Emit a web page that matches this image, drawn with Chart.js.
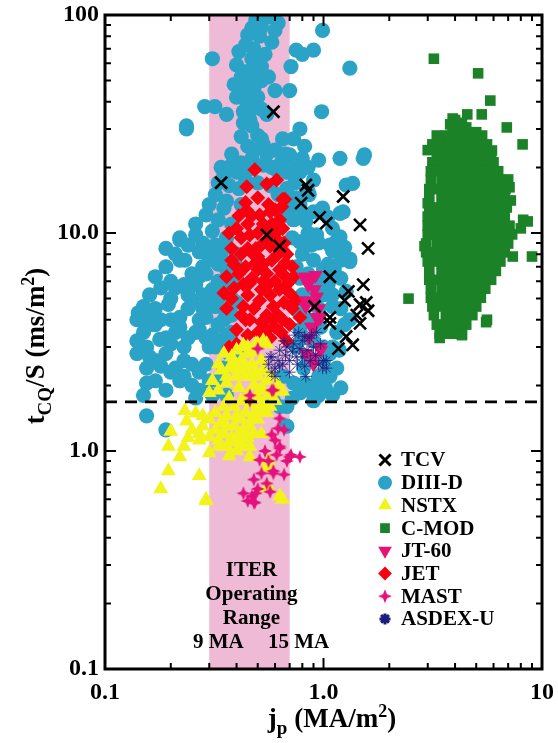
<!DOCTYPE html>
<html><head><meta charset="utf-8">
<script src="https://cdn.jsdelivr.net/npm/chart.js@4.4.0/dist/chart.umd.min.js"></script>
<style>html,body{margin:0;padding:0;background:#fff;}#wrap{width:558px;height:743px;}</style>
</head><body><div id="wrap"><canvas id="c" width="558" height="743"></canvas></div>
<script>
// ---------------- data ----------------
const xTickVals = [0.1, 1, 10];
const xTickLabels = ['0.1', '1.0', '10'];
const yTickVals = [0.1, 1, 10, 100];
const yTickLabels = ['0.1', '1.0', '10.0', '100'];
const seriesNames = ['TCV', 'DIII-D', 'NSTX', 'C-MOD', 'JT-60', 'JET', 'MAST', 'ASDEX-U'];
const iterBand = [0.3, 0.7];
const iterBandLabels = ['9 MA', '15 MA'];
const iterText = ['ITER', 'Operating', 'Range'];
const limitLine = 1.68;

const tcvPts = [[0.59,36],[0.34,17],[0.83,16.6],[0.85,15.7],[0.79,13.7],[1.23,14.7],[0.96,11.8],[1.03,11.1],[1.47,10.9],
[0.55,9.8],[0.63,8.7],[1.6,8.5],[1.07,6.3],[1.52,5.8],[1.3,5.4],[1.25,4.9],[1.47,4.7],[1.57,4.8],[1.6,4.4],[0.91,4.6],
[1.07,4.1],[1.07,3.85],[1.47,3.85],[1.42,4.2],[1.27,3.35],[1.36,3.07],[1.17,2.95]];

const diiidPts = [[0.56,98],[0.62,92],[0.47,87],[0.45,81],[0.99,85],[0.41,68],[0.48,70],[0.54,66],[0.75,69],[0.9,69],[0.8,66],
[0.31,63],[0.4,59],[0.445,55],[0.52,50],[0.71,58],[1.32,57],[0.39,48],[0.46,49.5],[0.7,45],[0.445,40],[0.47,37],[0.286,38],
[0.318,38],[0.36,35],[0.236,31],[0.236,30],[0.98,36],[0.43,32],[0.47,31],[0.42,27.7],[0.53,25.4],[0.65,27],[0.78,30],[0.73,27],
[0.38,23],[0.47,22],[0.7,22.8],[0.95,21.6],[1.19,22],[1.54,22.8],[0.34,20],[0.53,20.5],[0.61,19.5],[0.78,19],[1.27,16.6],
[1.36,16.9],[1.23,12.5],[0.99,13],[0.32,15],[0.41,16],[0.68,16],[0.29,12.1],[0.35,13],[0.78,13.5],[0.83,11.3],[0.22,9.5],
[0.26,9.8],[0.31,10.2],[0.35,8.5],[0.78,9.1],[0.93,9.8],[1.19,9.6],[1.07,8.8],
[0.44,45],[0.5,42],[0.43,36],[0.5,28],[0.45,25],[0.55,23],[0.6,24],[0.4,19],[0.44,17.5],[0.5,17],[0.57,16.5],[0.62,15],
[0.37,16.5],[0.36,14],[0.42,13.5],[0.3,13.5],[0.33,11.5],[0.38,11],[0.7,13],[0.73,11.5],[0.66,12],[0.74,17],[0.86,15],
[0.9,17.5],[0.64,21],[0.68,19],[0.58,20],[0.52,58],[0.55,35],[0.49,60],[0.58,75],[0.51,80],[0.6,85],
[0.33,17],[0.35,18.5],[0.38,20.5],[0.42,21],[0.45,19.5],[0.48,24],[0.52,27],[0.46,33],[0.52,37],[0.4,42],[0.48,46],[0.42,52],
[0.5,53],[0.47,63],[0.44,73],[0.52,88],[0.49,95],[0.56,52],[0.6,45],[0.67,23],[0.72,20],[0.8,22],[0.85,20],[0.82,25],
[0.22,9.3],[0.232,7.5],[0.28,7.0],[0.27,6.3],[0.18,5.6],[0.21,5.6],[0.142,4.3],[0.195,4.7],[0.16,3.8],[0.22,4.1],[0.25,4.9],
[0.29,4.1],[0.155,3.0],[0.178,3.25],[0.155,2.4],[0.18,2.45],[0.155,2.05],[0.22,2.1],[0.19,2.8],[0.23,3.0],[0.27,2.3],[0.27,1.9],
[0.155,1.45],[0.19,1.25],[0.29,6.5],[0.31,5.5],[0.32,4.6],[0.27,3.6],[0.34,3.2],[0.37,2.8],
[0.2,6],[0.24,5.2],[0.17,4.5],[0.2,4.0],[0.26,3.5],[0.23,2.6],[0.2,2.3],[0.17,2.6],[0.15,3.5],[0.14,3.2],[0.25,2.0],[0.29,2.5],
[0.3,3.0],[0.33,3.8],[0.36,4.3],[0.38,5.0],[0.25,6.5],[0.22,7.5],[0.19,8.5],[0.27,8.2],[0.3,7.5],[0.33,6.0],[0.35,5.5],[0.3,2.1],
[0.26,1.75],[0.31,1.8],[0.36,1.8],[0.17,3.8],[0.19,3.3],[0.21,3.5],[0.24,4.5],[0.28,5.2],[0.31,3.4],[0.35,2.4],[0.33,2.1],
[0.4,2.9],[0.38,3.5],[0.36,9.5],[0.4,8],[0.32,8.8],[0.26,11],
[0.14,4.0],[0.15,4.6],[0.16,5.2],[0.17,6.3],[0.19,7.0],[0.21,8.0],[0.24,8.8],[0.28,9.0],[0.3,8.5],[0.33,7.2],[0.36,6.8],
[0.16,2.7],[0.14,2.8],[0.15,1.8],[0.17,2.1],[0.19,1.9],[0.21,2.4],[0.23,2.2],[0.25,2.5],[0.24,3.3],[0.22,3.7],[0.2,5.0],
[0.23,5.8],[0.26,5.8],[0.28,4.5],[0.27,4.0],[0.3,4.8],[0.33,5.0],[0.35,4.0],[0.32,3.0],[0.29,3.3],[0.36,3.4],[0.38,4.2],
[0.4,4.8],[0.38,6.0],[0.4,7.0],[0.34,7.8],[0.2,3.1],[0.18,4.0],[0.16,4.2],
[0.9,7.5],[1.1,8.3],[1.32,7.4],[1.07,6.3],[1.27,5.4],[1.1,4.6],[1.32,4.0],[0.97,3.7],[1.1,3.0],[1.07,2.3],[1.1,1.8],[0.93,2.05],
[0.78,1.85],[0.68,1.6],[0.68,1.3],[0.59,1.7],[0.81,2.4],[0.73,2.05],
[0.8,8],[0.85,6.5],[0.9,5.5],[0.95,4.5],[1.0,5.2],[0.85,4],[0.8,3.3],[0.9,3.2],[1.0,3.0],[1.15,3.5],[1.2,4.5],[1.0,2.6],[0.95,2.2],
[0.85,2.7],[1.05,7.2],[0.95,9],[1.1,10.5],[0.85,10],[1.2,7.5],[0.75,7],[0.72,9.5],[0.8,12],[0.9,12.5],[1.05,11.8],[0.75,14.5],
[0.85,15.5],[1.52,22],[1.19,12.3],[1.32,7.6],[1.1,5.2],[1.07,2.8],[1.07,2.2],[0.95,1.8],[0.63,1.6],[0.9,1.7],
[0.75,3.0],[0.78,3.6],[0.76,4.4],[0.8,5.2],[0.78,6.2],[0.88,8.8],[0.95,6.2],[1.0,6.8],[1.05,5.8],[1.12,6.8],[1.15,9.2],
[1.25,8.6],[1.2,6.2],[1.25,3.8],[1.18,2.9],[1.15,2.4],[1.2,1.95],[1.02,1.95],[0.85,1.9],[0.72,1.75],[0.82,2.05],[0.65,2.2]];

const nstxPts = [[0.43,3.05],[0.5,3.1],[0.55,3.1],[0.39,2.5],[0.34,2.35],[0.31,2.1],[0.49,2.3],[0.55,2.1],[0.65,1.88],[0.3,1.85],
[0.232,1.53],[0.26,1.49],[0.28,1.45],[0.236,1.37],[0.2,1.23],[0.195,1.05],[0.23,1.05],[0.22,0.94],[0.195,0.81],[0.18,0.67],
[0.27,0.77],[0.27,1.12],[0.3,1.16],[0.3,0.98],[0.29,0.6],[0.33,1.12],[0.63,0.62],[0.56,0.68],[0.55,0.84],[0.41,1.12],[0.36,1.3],
[0.46,1.3],[0.39,1.6],[0.49,1.53],[0.57,1.6],[0.51,1.9],[0.41,1.95],[0.36,2.05],[0.53,3.2],[0.49,3.1],[0.63,1.88],[0.53,1.65],
[0.65,0.6],[0.29,0.59],[0.46,0.94],[0.55,0.68],[0.56,0.9],
[0.38,2.7],[0.42,2.6],[0.45,2.8],[0.47,2.5],[0.52,2.6],[0.36,2.2],[0.4,2.2],[0.44,2.2],[0.48,2.0],[0.33,1.9],[0.37,1.75],
[0.42,1.7],[0.45,1.8],[0.35,1.6],[0.32,1.5],[0.4,1.45],[0.44,1.5],[0.5,1.4],[0.34,1.35],[0.39,1.3],[0.43,1.25],[0.38,1.15],
[0.45,1.15],[0.32,1.25],[0.28,1.3],[0.33,1.05],[0.4,1.0],[0.37,0.95],
[0.35,2.8],[0.33,2.5],[0.37,2.4],[0.41,2.35],[0.44,2.45],[0.46,2.2],[0.5,2.2],[0.53,2.35],[0.5,1.75],[0.47,1.65],[0.53,1.9],
[0.56,1.8],[0.6,1.7],[0.55,1.5],[0.52,1.55],[0.47,1.4],[0.42,1.4],[0.36,1.45],[0.3,1.4],[0.27,1.2],[0.25,1.25],[0.24,1.15],
[0.35,1.2],[0.41,1.2],[0.48,1.2],[0.52,1.2],[0.36,1.05],[0.43,1.05],[0.46,1.05],[0.39,1.1],[0.6,1.9],[0.58,2.2],[0.62,2.0],
[0.45,3.0],[0.4,2.9],[0.47,2.85]];

const cmodPts = [[4.0,33],[4.3,32],[3.9,30.5],[4.2,30.5],[4.5,30.5],
[3.3,28],[3.63,28],[4.0,28],[4.4,28],[4.84,28],[5.32,28],
[3.15,25.5],[3.47,25.5],[3.82,25.5],[4.2,25.5],[4.62,25.5],[5.08,25.5],[5.6,25.5],
[3.3,23.2],[3.63,23.2],[4.0,23.2],[4.4,23.2],[4.84,23.2],[5.32,23.2],[5.85,23.2],
[3.15,21.1],[3.47,21.1],[3.82,21.1],[4.2,21.1],[4.62,21.1],[5.08,21.1],[5.6,21.1],[6.0,21.1],
[3.1,19.2],[3.3,19.2],[3.63,19.2],[4.0,19.2],[4.4,19.2],[4.84,19.2],[5.32,19.2],[5.85,19.2],[6.3,19.2],
[3.1,17.5],[3.47,17.5],[3.82,17.5],[4.2,17.5],[4.62,17.5],[5.08,17.5],[5.6,17.5],[6.15,17.5],[6.6,17.5],
[3.05,15.9],[3.3,15.9],[3.63,15.9],[4.0,15.9],[4.4,15.9],[4.84,15.9],[5.32,15.9],[5.85,15.9],[6.45,15.9],[6.8,15.9],
[3.05,14.4],[3.47,14.4],[3.82,14.4],[4.2,14.4],[4.62,14.4],[5.08,14.4],[5.6,14.4],[6.15,14.4],[6.75,14.4],
[3.05,13.1],[3.3,13.1],[3.63,13.1],[4.0,13.1],[4.4,13.1],[4.84,13.1],[5.32,13.1],[5.85,13.1],[6.45,13.1],[6.9,13.1],
[3.0,11.9],[3.15,11.9],[3.47,11.9],[3.82,11.9],[4.2,11.9],[4.62,11.9],[5.08,11.9],[5.6,11.9],[6.15,11.9],[6.75,11.9],
[3.0,10.8],[3.3,10.8],[3.63,10.8],[4.0,10.8],[4.4,10.8],[4.84,10.8],[5.32,10.8],[5.85,10.8],[6.45,10.8],[7.1,10.8],
[3.0,9.85],[3.15,9.85],[3.47,9.85],[3.82,9.85],[4.2,9.85],[4.62,9.85],[5.08,9.85],[5.6,9.85],[6.15,9.85],[6.75,9.85],[7.3,9.85],
[2.95,8.95],[3.3,8.95],[3.63,8.95],[4.0,8.95],[4.4,8.95],[4.84,8.95],[5.32,8.95],[5.85,8.95],[6.45,8.95],[7.0,8.95],
[2.95,8.15],[3.15,8.15],[3.47,8.15],[3.82,8.15],[4.2,8.15],[4.62,8.15],[5.08,8.15],[5.6,8.15],[6.15,8.15],[6.75,8.15],
[3.0,7.4],[3.3,7.4],[3.63,7.4],[4.0,7.4],[4.4,7.4],[4.84,7.4],[5.32,7.4],[5.85,7.4],[6.45,7.4],
[3.05,6.7],[3.47,6.7],[3.82,6.7],[4.2,6.7],[4.62,6.7],[5.08,6.7],[5.6,6.7],[6.15,6.7],
[3.05,6.1],[3.3,6.1],[3.63,6.1],[4.0,6.1],[4.4,6.1],[4.84,6.1],[5.32,6.1],[5.85,6.1],
[3.1,5.55],[3.47,5.55],[3.82,5.55],[4.2,5.55],[4.62,5.55],[5.08,5.55],[5.5,5.55],
[3.1,5.05],[3.3,5.05],[3.63,5.05],[4.0,5.05],[4.4,5.05],[4.84,5.05],[5.25,5.05],
[3.15,4.6],[3.47,4.6],[3.82,4.6],[4.2,4.6],[4.62,4.6],[5.0,4.6],
[3.2,4.2],[3.63,4.2],[4.0,4.2],[4.4,4.2],[4.8,4.2],
[3.3,3.8],[3.47,3.8],[3.82,3.8],[4.2,3.8],[4.5,3.8],
[3.4,3.45],[3.63,3.45],[4.0,3.45],[4.3,3.45],
[3.2,63],[5.1,54],[5.8,40.5],[4.55,35],[5.3,35],[3.9,33.5],[3.8,31.5],[5.0,29],[6.9,30.5],[8.15,25.5],[3.0,24],[3.4,26.5],
[5.9,23.9],[5.75,21.7],[6.2,18.9],[7.0,17.6],[7.1,16.2],[7.2,14.1],[8.2,11.5],[8.6,11.3],[8.0,10.5],[7.35,7.8],[9.0,7.8],
[2.45,5.0],[5.6,4.0],[5.55,3.9],[4.3,3.4],[3.4,3.3],[2.9,8.7],[3.0,13.7]];

const jt60Pts = [[0.88,6.2],[0.91,5.5],[0.9,4.8],[0.83,4.9],[0.93,4.1],[0.88,3.7],[0.97,3.0],[0.9,2.7],[0.82,6.2],[0.83,6.3],
[0.93,5.1],[0.83,4.6],[0.97,4.1],[0.9,3.7],[0.83,2.8],[0.9,2.5],[0.97,2.9],[0.85,5.8],[0.95,4.5],[0.86,3.3],[0.92,6.4]];

const jetPts = [[0.485,19.5],[0.445,16.3],[0.55,16.8],[0.61,17.5],[0.65,14.3],[0.645,13.2],[0.445,12.7],[0.51,12.1],[0.57,12.5],
[0.55,10.5],[0.61,10.1],[0.49,8.5],[0.63,8.5],[0.39,7.15],[0.39,5.6],[0.38,5.0],[0.37,3.0],[0.46,5.9],[0.47,8.1],[0.57,8.7],
[0.63,6.8],[0.72,7.0],[0.75,4.9],[0.7,3.8],[0.55,3.6],[0.46,4.0],[0.59,4.6],[0.51,4.9],[0.63,5.5],[0.55,6.5],[0.49,7.3],
[0.43,4.6],[0.41,6.5],[0.68,3.2],[0.665,14.3],[0.73,6.3],[0.78,4.1],
[0.42,9.5],[0.45,11],[0.5,10],[0.55,9.3],[0.6,9.5],[0.65,10.5],[0.42,8],[0.5,7.8],[0.58,7.5],[0.62,8],[0.68,8],[0.44,7],
[0.5,6.8],[0.6,6],[0.68,5.8],[0.52,5.5],[0.57,5.2],[0.45,5.2],[0.48,4.5],[0.55,4.2],[0.62,4.2],[0.66,4.8],[0.7,5.3],[0.6,3.7],
[0.52,3.9],[0.42,4.2],[0.4,3.6],[0.35,5.3],[0.36,6.3],[0.38,8.5],[0.4,10.5],[0.47,12],[0.56,13.5],[0.5,14.5],[0.58,11],
[0.63,11.5],[0.4,3.1],[0.45,3.4],[0.57,3.3],[0.64,3.5],
[0.43,5.8],[0.47,6.2],[0.53,6.0],[0.56,5.8],[0.65,6.5],[0.67,7.3],[0.53,7.2],[0.45,8.5],[0.52,8.8],[0.58,9.5],[0.46,9.8],
[0.53,11],[0.6,12.8],[0.44,13.8],[0.41,12],[0.37,10],[0.38,7.5],[0.44,4],[0.5,3.5],[0.58,4.0],[0.65,4.0],[0.72,4.5],[0.7,6.0],
[0.66,9],[0.36,4.5]];

const mastPts = [[0.5,2.95],[0.58,1.9],[0.46,1.7],[0.63,1.41],[0.62,1.27],[0.6,1.12],[0.63,1.03],[0.71,0.96],[0.68,0.9],[0.54,1.0],
[0.51,0.91],[0.56,0.9],[0.66,0.78],[0.59,0.81],[0.52,0.79],[0.48,0.74],[0.55,0.71],[0.5,0.67],[0.43,0.64],[0.47,0.62],[0.485,0.58],
[0.45,0.59],[0.57,0.65],[0.61,0.96],[0.58,1.19],[0.46,1.8],[0.59,1.9],[0.66,1.25],[0.63,1.05],[0.7,0.94],[0.78,0.94],[0.59,0.79],
[0.49,0.64],[0.48,0.58]];

const asdexPts = [[0.56,2.5],[0.58,2.7],[0.6,2.4],[0.62,2.6],[0.63,2.9],[0.65,2.5],[0.67,2.75],[0.68,3.0],[0.7,2.6],[0.72,2.85],
[0.73,3.1],[0.75,2.7],[0.76,2.5],[0.78,2.95],[0.8,3.2],[0.8,2.7],[0.82,2.45],[0.84,2.9],[0.86,3.3],[0.87,2.6],[0.9,3.0],[0.92,2.75],
[0.95,2.5],[0.97,3.1],[1.0,2.6],[0.6,2.2],[0.7,2.3],[0.66,3.2],[0.74,3.4],[0.88,3.4],[0.93,3.5],[0.58,2.3],[1.03,2.4],[0.83,2.2],
[0.77,3.5],[0.82,3.35],[1.03,2.6],[0.99,2.4],[0.57,2.7],[0.63,2.45]];

// ---------------- styling ----------------
const FONT = '"Liberation Serif", "Times New Roman", serif';
const BAND_COLOR = '#efbad6';

function makeStar4(color, r) {
  const s = Math.ceil(r * 2 + 2);
  const c = document.createElement('canvas'); c.width = s; c.height = s;
  const g = c.getContext('2d'); const cx = s / 2, cy = s / 2;
  g.beginPath();
  for (let i = 0; i < 8; i++) {
    const a = i * Math.PI / 4 - Math.PI / 2;
    const rr = (i % 2 === 0) ? r : r * 0.4;
    g.lineTo(cx + rr * Math.cos(a), cy + rr * Math.sin(a));
  }
  g.closePath(); g.fillStyle = color; g.fill();
  return c;
}
const mastStar = makeStar4('#e5117c', 7);

const toXY = arr => arr.map(p => ({x: p[0], y: p[1]}));

const styles = [
  {data: tcvPts, style: 'crossRot', r: 8.5, bw: 2.6, fill: '#000', stroke: '#000', rot: 0, order: 0},
  {data: diiidPts, style: 'circle', r: 7.6, bw: 0, fill: '#2aa3c7', stroke: '#2aa3c7', rot: 0, order: 7},
  {data: nstxPts, style: 'triangle', r: 8.6, bw: 0, fill: '#f3f31c', stroke: '#f3f31c', rot: 0, order: 3},
  {data: cmodPts, style: 'rect', r: 7.5, bw: 0, fill: '#1b8227', stroke: '#1b8227', rot: 0, order: 6},
  {data: jt60Pts, style: 'triangle', r: 8.6, bw: 0, fill: '#e6127a', stroke: '#e6127a', rot: 180, order: 4},
  {data: jetPts, style: 'rectRot', r: 7.5, bw: 0, fill: '#f8000f', stroke: '#f8000f', rot: 0, order: 5},
  {data: mastPts, style: mastStar, r: 7, bw: 0, fill: '#e5117c', stroke: '#e5117c', rot: 0, order: 2},
  {data: asdexPts, style: 'star', r: 6, bw: 0.8, fill: '#1c1c7e', stroke: '#1c1c7e', rot: 0, order: 1}
];

const datasets = styles.map((s, i) => ({
  label: seriesNames[i],
  data: toXY(s.data),
  pointStyle: s.style,
  pointRadius: s.r,
  pointBorderWidth: s.bw,
  pointBackgroundColor: s.fill,
  pointBorderColor: s.stroke,
  pointRotation: s.rot,
  order: s.order
}));

// ---------------- plugins ----------------
const bandPlugin = {
  id: 'band',
  beforeDatasetsDraw(chart) {
    const {ctx, chartArea: a, scales: {x}} = chart;
    const x0 = x.getPixelForValue(iterBand[0]), x1 = x.getPixelForValue(iterBand[1]);
    ctx.save(); ctx.fillStyle = BAND_COLOR; ctx.fillRect(x0, a.top, x1 - x0, a.bottom - a.top); ctx.restore();
  }
};

function richDraw(ctx, parts, cx, y) {
  let w = 0;
  parts.forEach(p => { ctx.font = `bold ${p.s}px ${FONT}`; w += ctx.measureText(p.t).width; });
  let xx = cx - w / 2;
  parts.forEach(p => { ctx.font = `bold ${p.s}px ${FONT}`; ctx.fillText(p.t, xx, y + p.dy); xx += ctx.measureText(p.t).width; });
}

const overlayPlugin = {
  id: 'overlay',
  afterDatasetsDraw(chart) {
    const {ctx, chartArea: a, scales: {x, y}} = chart;
    ctx.save();
    const yl = y.getPixelForValue(limitLine);
    ctx.strokeStyle = '#000'; ctx.lineWidth = 2.6; ctx.setLineDash([12, 8]);
    ctx.beginPath(); ctx.moveTo(a.left, yl); ctx.lineTo(a.right, yl); ctx.stroke();
    ctx.setLineDash([]);
    ctx.lineWidth = 2;
    const drawX = (v, len) => { const px = x.getPixelForValue(v);
      ctx.beginPath(); ctx.moveTo(px, a.bottom); ctx.lineTo(px, a.bottom - len); ctx.moveTo(px, a.top); ctx.lineTo(px, a.top + len); ctx.stroke(); };
    const drawY = (v, len) => { const py = y.getPixelForValue(v);
      ctx.beginPath(); ctx.moveTo(a.left, py); ctx.lineTo(a.left + len, py); ctx.moveTo(a.right, py); ctx.lineTo(a.right - len, py); ctx.stroke(); };
    xTickVals.forEach(v => drawX(v, 11));
    yTickVals.forEach(v => drawY(v, 11));
    [0.1, 1].forEach(d => { for (let m = 2; m <= 9; m++) drawX(d * m, 6); });
    [0.1, 1, 10].forEach(d => { for (let m = 2; m <= 9; m++) drawY(d * m, 6); });
    ctx.lineWidth = 3;
    ctx.strokeRect(a.left, a.top, a.right - a.left, a.bottom - a.top);
    ctx.fillStyle = '#000';
    ctx.font = `bold 21px ${FONT}`; ctx.textAlign = 'center'; ctx.textBaseline = 'middle';
    const bx0 = x.getPixelForValue(iterBand[0]), bx1 = x.getPixelForValue(iterBand[1]);
    const bc = (bx0 + bx1) / 2 + 2;
    const iterY = [571, 595, 619];
    iterText.forEach((t, i) => ctx.fillText(t, bc, iterY[i]));
    ctx.fillText(iterBandLabels[0], bx0 + 9, 643);
    ctx.fillText(iterBandLabels[1], bx1 + 9, 643);
    const lx = 385, tx = 401, ly0 = 460, dy = 22.7;
    styles.forEach((s, i) => {
      const yy = ly0 + i * dy;
      ctx.fillStyle = s.fill; ctx.strokeStyle = s.stroke;
      Chart.helpers.drawPoint(ctx, {pointStyle: s.style, radius: s.r * 0.92, rotation: s.rot, borderWidth: s.bw}, lx, yy);
      ctx.fillStyle = '#000'; ctx.textAlign = 'left'; ctx.textBaseline = 'middle';
      ctx.font = `bold 21px ${FONT}`;
      ctx.fillText(seriesNames[i], tx, yy + 1);
    });
    ctx.fillStyle = '#000'; ctx.textAlign = 'left'; ctx.textBaseline = 'alphabetic';
    richDraw(ctx, [{t:'j',s:27,dy:0},{t:'p',s:19,dy:7},{t:' (MA/m',s:27,dy:0},{t:'2',s:18,dy:-10},{t:')',s:27,dy:0}], 332, 727);
    ctx.save(); ctx.translate(44, 346); ctx.rotate(-Math.PI / 2);
    richDraw(ctx, [{t:'t',s:27,dy:0},{t:'CQ',s:19,dy:7},{t:'/S (ms/m',s:27,dy:0},{t:'2',s:18,dy:-10},{t:')',s:27,dy:0}], 0, 0);
    ctx.restore();
    ctx.restore();
  }
};

const tickFont = {family: FONT, weight: 'bold', size: 24};

new Chart(document.getElementById('c'), {
  type: 'scatter',
  data: {datasets},
  options: {
    responsive: false, animation: false, events: [],
    layout: {padding: {top: 15, right: 16, left: 0, bottom: 0}},
    plugins: {legend: {display: false}, tooltip: {enabled: false}, title: {display: false}},
    scales: {
      x: {type: 'logarithmic', position: 'bottom', min: 0.1, max: 10,
        grid: {display: false, drawTicks: false}, border: {display: false},
        ticks: {font: tickFont, color: '#000', padding: 9, autoSkip: false, maxRotation: 0, minRotation: 0,
          callback: (v, i) => xTickLabels[i]},
        afterBuildTicks: s => { s.ticks = xTickVals.map(v => ({value: v})); },
        afterFit: s => { s.height = 74; s.paddingLeft = 0; s.paddingRight = 0; }
      },
      y: {type: 'logarithmic', position: 'left', min: 0.1, max: 100,
        grid: {display: false, drawTicks: false}, border: {display: false},
        ticks: {font: tickFont, color: '#000', padding: 6, autoSkip: false,
          callback: (v, i) => yTickLabels[i]},
        afterBuildTicks: s => { s.ticks = yTickVals.map(v => ({value: v})); },
        afterFit: s => { s.width = 105; s.paddingTop = 0; s.paddingBottom = 0; }
      }
    }
  },
  plugins: [bandPlugin, overlayPlugin]
});
</script></body></html>
